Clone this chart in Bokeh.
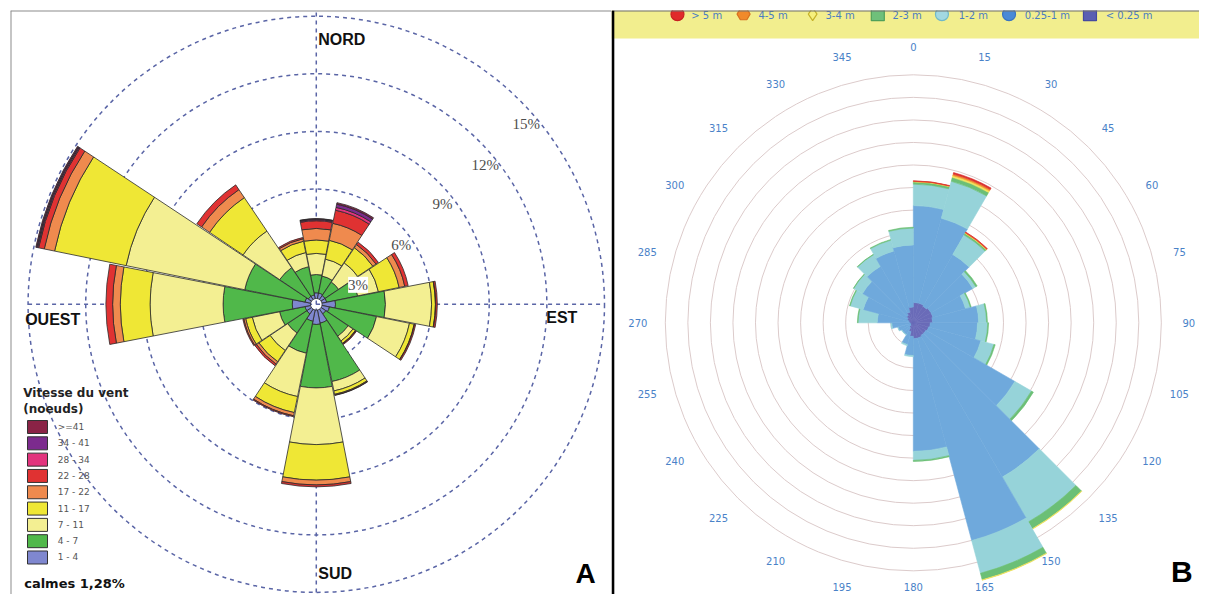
import math
from bokeh.plotting import figure
from bokeh.layouts import row
from bokeh.models import Range1d, Label, BoxAnnotation, Span, ColumnDataSource
from bokeh.core.properties import value
from bokeh.embed import file_html
from bokeh.resources import INLINE

# ======================= Panel A : wind rose (% of time) =======================
directions_a = [0, 22.5, 45, 67.5, 90, 112.5, 135, 157.5, 180, 202.5, 225, 247.5, 270, 292.5, 315, 337.5]
speed_labels = ["1 - 4", "4 - 7", "7 - 11", "11 - 17", "17 - 22", "22 - 28", "28 - 34", "34 - 41", ">=41"]
#            N     NNE   NE    ENE   E     ESE   SE    SSE   S     SSW   SW    WSW   W     WNW   NW    NNW
v_1_4   = [0.30, 0.30, 0.25, 0.25, 0.70, 0.40, 0.30, 0.70, 0.75, 0.60, 0.30, 0.30, 0.95, 0.30, 0.20, 0.20]
v_4_7   = [0.95, 0.90, 0.85, 1.65, 2.60, 2.50, 1.40, 3.10, 3.30, 1.70, 1.20, 1.35, 3.60, 3.20, 1.80, 1.50]
v_7_11  = [1.10, 0.90, 1.20, 1.10, 2.40, 1.75, 0.30, 0.50, 2.95, 2.30, 1.10, 1.45, 3.80, 6.30, 2.30, 0.75]
v_11_17 = [0.70, 1.00, 0.95, 1.10, 0.20, 0.25, 0.15, 0.18, 1.85, 0.85, 0.70, 0.35, 1.55, 3.80, 2.10, 0.60]
v_17_22 = [0.60, 0.90, 0.20, 0.30, 0.02, 0.02, 0.03, 0.04, 0.25, 0.17, 0.15, 0.10, 0.40, 0.55, 0.50, 0.13]
v_22_28 = [0.40, 0.70, 0.15, 0.18, 0.08, 0.06, 0.04, 0.02, 0.10, 0.05, 0.10, 0.05, 0.35, 0.30, 0.30, 0.07]
v_28_34 = [0.05, 0.15, 0.00, 0.00, 0.00, 0.00, 0.00, 0.00, 0.00, 0.00, 0.00, 0.00, 0.00, 0.05, 0.00, 0.00]
v_34_41 = [0.04, 0.17, 0.00, 0.00, 0.00, 0.00, 0.00, 0.00, 0.00, 0.00, 0.00, 0.00, 0.00, 0.05, 0.00, 0.00]
v_41p   = [0.02, 0.08, 0.00, 0.00, 0.00, 0.00, 0.00, 0.00, 0.00, 0.00, 0.00, 0.00, 0.00, 0.05, 0.00, 0.00]
ring_ticks_a = [3, 6, 9, 12, 15]
ring_tick_labels_a = ["3%", "6%", "9%", "12%", "15%"]
cardinal_names = ["NORD", "EST", "SUD", "OUEST"]
calm_text = "calmes 1,28%"
legend_title_a = ["Vitesse du vent", "(noeuds)"]

# ======================= Panel B : wave rose =======================
bin_starts_b = [0, 15, 30, 45, 60, 75, 90, 105, 120, 135, 150, 165,
                180, 195, 210, 225, 240, 255, 270, 285, 300, 315, 330, 345]
wave_labels = ["< 0.25 m", "0.25-1 m", "1-2 m", "2-3 m", "3-4 m", "4-5 m", "> 5 m"]
h_lt025 = [0.90, 0.90, 0.85, 0.90, 0.90, 0.85, 0.75, 0.70, 0.65, 0.65, 0.70, 0.70,
           0.60, 0.40, 0.25, 0.15, 0.12, 0.12, 0.15, 0.20, 0.30, 0.40, 0.50, 0.70]
h_025_1 = [4.30, 3.90, 2.65, 2.15, 1.50, 2.05, 2.10, 2.40, 4.55, 7.25, 9.30, 5.00,
           0.85, 0.60, 0.35, 0.45, 0.58, 0.83, 1.45, 2.10, 2.30, 2.50, 2.80, 2.75]
h_1_2   = [0.95, 1.70, 1.00, 0.15, 0.22, 0.35, 0.45, 0.60, 0.85, 2.30, 1.50, 0.40,
           0.05, 0.05, 0.02, 0.02, 0.02, 0.05, 0.85, 0.60, 0.45, 0.60, 0.50, 0.75]
h_2_3   = [0.10, 0.18, 0.08, 0.07, 0.04, 0.04, 0.04, 0.06, 0.10, 0.35, 0.30, 0.05,
           0.00, 0.00, 0.00, 0.00, 0.00, 0.00, 0.03, 0.03, 0.02, 0.02, 0.03, 0.04]
h_3_4   = [0.02, 0.08, 0.02, 0.00, 0.00, 0.00, 0.00, 0.00, 0.00, 0.02, 0.02, 0.00,
           0.00, 0.00, 0.00, 0.00, 0.00, 0.00, 0.00, 0.00, 0.00, 0.00, 0.00, 0.00]
h_4_5   = [0.01, 0.07, 0.02, 0.00, 0.00, 0.00, 0.00, 0.00, 0.00, 0.00, 0.00, 0.00,
           0.00, 0.00, 0.00, 0.00, 0.00, 0.00, 0.00, 0.00, 0.00, 0.00, 0.00, 0.00]
h_gt5   = [0.02, 0.07, 0.03, 0.00, 0.00, 0.00, 0.00, 0.00, 0.00, 0.00, 0.00, 0.00,
           0.00, 0.00, 0.00, 0.00, 0.00, 0.00, 0.00, 0.00, 0.00, 0.00, 0.00, 0.00]
ring_ticks_b = [1, 2, 3, 4, 5, 6, 7, 8, 9, 10, 11]
angle_labels_b = ["0", "15", "30", "45", "60", "75", "90", "105", "120", "135", "150", "165",
                  "180", "195", "210", "225", "240", "255", "270", "285", "300", "315", "330", "345"]

# ======================= styles =======================
colors_a = ["#7f87cf", "#50b84a", "#f3ef92", "#efe735", "#ef8a4e", "#e03232", "#e2337d", "#7c2b8e", "#8a2346"]
colors_b = ["#6a6bb8", "#6fa9dc", "#96d3d9", "#6bbf76", "#f3e35a", "#f08a2e", "#da2f2f"]
legend_marker_b = ["circle", "hex", "diamond", "square", "circle", "circle", "square"]
legend_marker_col_b = ["#e02a2a", "#f08a2a", "#f6f07c", "#6fc07a", "#a2d8e2", "#4a8ad6", "#5a5fb2"]
legend_marker_line_b = ["#c82020", "#d87020", "#c6b22a", "#4fa05a", "#6fb8c8", "#3a74c0", "#454aa0"]

FONT = "DejaVu Sans"
SANS = "Liberation Sans"
SERIF = "Liberation Serif"

# whole page: reference layout squeezed into the 1199 x 594 drawable area
W_TOT, H_TOT = 1199, 594
KX, KY = W_TOT / 1215.0, H_TOT / 610.0
K = 0.5 * (KX + KY)
W_A = 611                    # width of panel A figure
W_B = W_TOT - W_A
BORD = 10                    # top border shared by both panels (row aligns frames)

# ---- geometry of panel A ----
SA = 19.6 * K                # px per percent
CAX, CAY = 320 * KX, 312 * KY
HOLE = 0.3                   # white calm circle
HW_A = 11.0                  # half sector width (deg)


def ax(X):
    return (X * KX - CAX) / SA


def ay(Y):
    return (CAY - Y * KY) / SA


pA = figure(width=W_A, height=H_TOT, output_backend="svg", toolbar_location=None, title_location=None,
            x_axis_type=None, y_axis_type=None,
            x_range=Range1d((BORD - CAX) / SA, (W_A - CAX) / SA),
            y_range=Range1d((CAY - H_TOT) / SA, (CAY - BORD) / SA),
            min_border_left=BORD, min_border_top=BORD, min_border_right=0, min_border_bottom=0,
            outline_line_color=None, background_fill_color="white", border_fill_color="white")

grid_col = "#5a65a6"
pA.circle(x=[0] * len(ring_ticks_a), y=[0] * len(ring_ticks_a), radius=ring_ticks_a,
          fill_color=None, line_color=grid_col, line_dash="4 4", line_width=1.5)
pA.segment(x0=[-15, 0], y0=[0, -15], x1=[15, 0], y1=[0, 15.4],
           line_color=grid_col, line_dash="4 4", line_width=1.5)

layers_a = [v_1_4, v_4_7, v_7_11, v_11_17, v_17_22, v_22_28, v_28_34, v_34_41, v_41p]
da = dict(r0=[], r1=[], a0=[], a1=[], color=[])
for i, d in enumerate(directions_a):
    base = HOLE
    for layer, col in zip(layers_a, colors_a):
        v = layer[i]
        if v <= 0:
            continue
        da["r0"].append(base)
        da["r1"].append(base + v)
        da["a0"].append(math.radians(90 - d - HW_A))
        da["a1"].append(math.radians(90 - d + HW_A))
        da["color"].append(col)
        base += v
pA.annular_wedge(x=0, y=0, inner_radius="r0", outer_radius="r1", start_angle="a0", end_angle="a1",
                 fill_color="color", line_color="#2a2a2a", line_width=0.8, source=ColumnDataSource(da))

# ring labels
label_ang = [65, 55, 51.5, 50.5, 49.4]
for t, txt, ang in zip(ring_ticks_a, ring_tick_labels_a, label_ang):
    rr = t - 0.6
    lab = Label(x=rr * math.sin(math.radians(ang)), y=rr * math.cos(math.radians(ang)), text=txt,
                text_font=SERIF, text_font_size="15px", text_color="#4d4d4d",
                text_align="center", text_baseline="middle")
    if t == ring_ticks_a[0]:
        lab.background_fill_color = "white"
        lab.background_fill_alpha = 1.0
    pA.add_layout(lab)

# cardinal labels
pA.text(x=[ax(322), ax(553), ax(322), ax(25)], y=[ay(40), ay(326), ay(588), ay(328)],
        text=cardinal_names, text_font=value(SANS), text_font_style="bold", text_font_size="16px",
        text_color="#111111", text_align="left", text_baseline="middle")

# legend A
pA.text(x=[ax(23), ax(23)], y=[ay(403), ay(420)], text=legend_title_a, text_font=value(FONT),
        text_font_style="bold", text_font_size="12px", text_color="#222222",
        text_align="left", text_baseline="middle")
leg_y = [ay(438 + 16.75 * k) for k in range(len(speed_labels))]
rev_cols = colors_a[::-1]
rev_labs = speed_labels[::-1]
pA.rect(x=[ax(37.5)] * len(leg_y), y=leg_y, width=20 / SA, height=13 / SA,
        fill_color=rev_cols, line_color="#333333", line_width=1)
pA.text(x=[ax(58)] * len(leg_y), y=leg_y, text=rev_labs, text_font=value(FONT), text_font_size="9px",
        text_color="#555555", text_align="left", text_baseline="middle")
pA.text(x=[ax(24)], y=[ay(599)], text=[calm_text], text_font=value(FONT), text_font_style="bold",
        text_font_size="13px", text_color="#111111", text_align="left", text_baseline="middle")
pA.text(x=[ax(593)], y=[ay(588)], text=["A"], text_font=value(SANS), text_font_style="bold",
        text_font_size="28px", text_color="#000000", text_align="center", text_baseline="middle")

pA.add_layout(Span(location=(BORD - CAX) / SA, dimension="height", line_color="#8c8c8c", line_width=2))
pA.add_layout(Span(location=(CAY - BORD) / SA, dimension="width", line_color="#8c8c8c", line_width=2))

# ---- geometry of panel B ----
SB = 23.0 * K
CBX = 925 * KX - W_A          # centre in panel-B local px
CBY = 331 * KY
HW_B = 7.5


def bx(X):
    return (X * KX - W_A - CBX) / SB


def by(Y):
    return (CBY - Y * KY) / SB


pB = figure(width=W_B, height=H_TOT, output_backend="svg", toolbar_location=None, title_location=None,
            x_axis_type=None, y_axis_type=None,
            x_range=Range1d(-CBX / SB, (W_B - CBX) / SB),
            y_range=Range1d((CBY - H_TOT) / SB, (CBY - BORD) / SB),
            min_border_left=0, min_border_right=0, min_border_bottom=0, min_border_top=BORD,
            outline_line_color=None, background_fill_color="white", border_fill_color="white")

pB.circle(x=[0] * len(ring_ticks_b), y=[0] * len(ring_ticks_b), radius=ring_ticks_b,
          fill_color=None, line_color="#dccbcb", line_width=1)

layers_b = [h_lt025, h_025_1, h_1_2, h_2_3, h_3_4, h_4_5, h_gt5]
db = dict(r0=[], r1=[], a0=[], a1=[], color=[])
for i, s in enumerate(bin_starts_b):
    base = 0.0
    for layer, col in zip(layers_b, colors_b):
        v = layer[i]
        if v <= 0:
            continue
        db["r0"].append(base)
        db["r1"].append(base + v)
        db["a0"].append(math.radians(90 - s - 2 * HW_B))
        db["a1"].append(math.radians(90 - s))
        db["color"].append(col)
        base += v
pB.annular_wedge(x=0, y=0, inner_radius="r0", outer_radius="r1", start_angle="a0", end_angle="a1",
                 fill_color="color", line_color="color", line_width=0.6, source=ColumnDataSource(db))

RL = 281 * K / SB
y_floor = (CBY - H_TOT + 8) / SB      # keep the lowest label inside the picture
ang_vals = [float(t) for t in angle_labels_b]
pB.text(x=[RL * math.sin(math.radians(a)) for a in ang_vals],
        y=[max(RL * math.cos(math.radians(a)), y_floor) for a in ang_vals],
        text=angle_labels_b, text_font=value(FONT), text_font_size="10px", text_color="#4a82c8",
        text_align="center", text_baseline="middle")

# top legend band
pB.add_layout(BoxAnnotation(bottom=by(39), top=None, fill_color="#f2ee8e", fill_alpha=1.0,
                            line_color=None, level="underlay"))
mk_x = [686, 753, 823, 889, 954, 1022, 1104]
tx_x = [700, 768, 836, 904, 971, 1038, 1120]
pB.scatter(x=[bx(v) for v in mk_x], y=[by(14)] * len(mk_x), marker=legend_marker_b, size=13,
           fill_color=legend_marker_col_b, line_color=legend_marker_line_b, line_width=1.2)
pB.text(x=[bx(v) for v in tx_x], y=[by(15.5)] * len(tx_x), text=wave_labels[::-1], text_font=value(FONT),
        text_font_size="10px", text_color="#4a7cc2", text_align="left", text_baseline="middle")
pB.add_layout(Span(location=(CBY - BORD) / SB, dimension="width", line_color="#6e6e6e", line_width=2))
pB.add_layout(BoxAnnotation(left=None, right=bx(622), bottom=None, top=None, fill_color="#000000",
                            fill_alpha=1.0, line_color=None))

pB.text(x=[bx(1197)], y=[by(586)], text=["B"], text_font=value(SANS), text_font_style="bold",
        text_font_size="30px", text_color="#000000", text_align="center", text_baseline="middle")

layout = row(pA, pB)
open("out.html", "w").write(file_html(layout, INLINE))
